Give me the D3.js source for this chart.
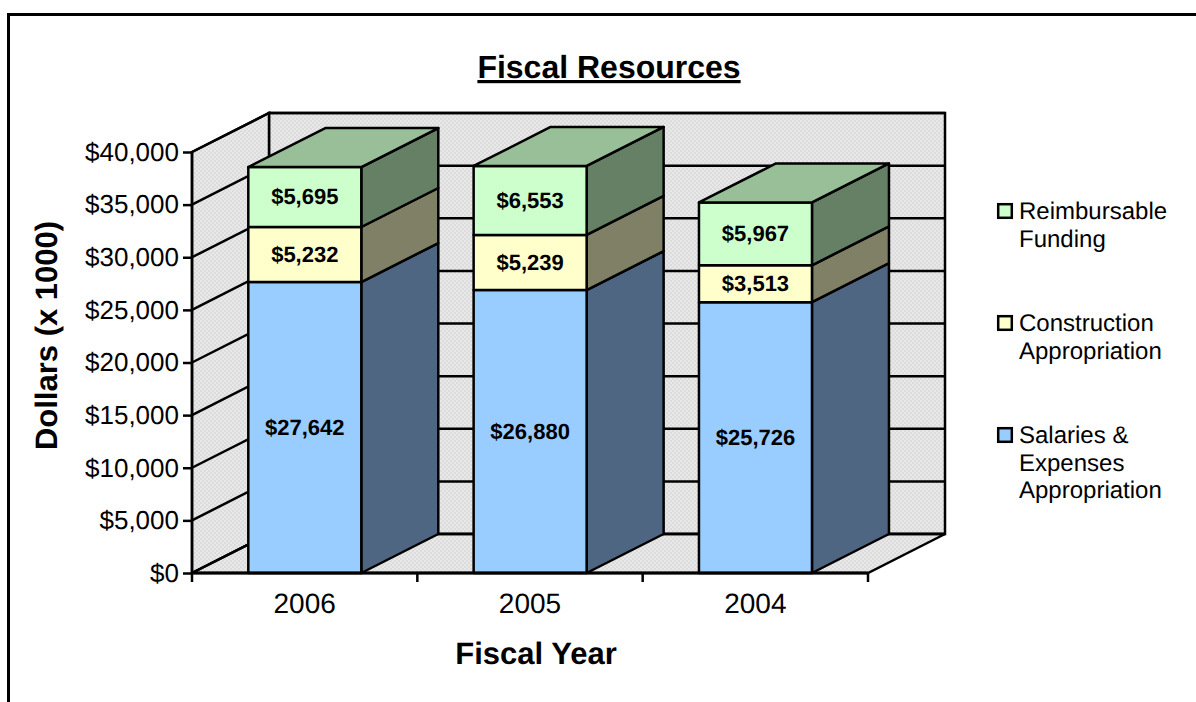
<!DOCTYPE html>
<html>
<head>
<meta charset="utf-8">
<script src="https://cdn.jsdelivr.net/npm/d3@7"></script>
<style>
  html, body { margin: 0; padding: 0; background: #fff; }
  svg { display: block; font-family: "Liberation Sans", Arial, sans-serif; text-rendering: geometricPrecision; }
  text { fill: #000; }
</style>
</head>
<body>
<div id="chart"></div>
<script>
// Fiscal resources by year, in thousands of dollars.
const years = ["2006", "2005", "2004"];
const salaries = [27642, 26880, 25726];
const construction = [5232, 5239, 3513];
const reimbursable = [5695, 6553, 5967];
const yTicks = [0, 5000, 10000, 15000, 20000, 25000, 30000, 35000, 40000];

const seriesNames = ["salaries", "construction", "reimbursable"];
const seriesValues = { salaries, construction, reimbursable };
const frontColors = { salaries: "#99ccff", construction: "#ffffcc", reimbursable: "#ccffcc" };
const sideColors = { salaries: "#4f6682", construction: "#808066", reimbursable: "#668066" };
const topColor = "#99bf99";
const legendLines = [
  { key: "reimbursable", lines: ["Reimbursable", "Funding"], y: 211 },
  { key: "construction", lines: ["Construction", "Appropriation"], y: 323 },
  { key: "salaries", lines: ["Salaries &", "Expenses", "Appropriation"], y: 435 }
];

const width = 1196, height = 702;
const depthX = 77, depthY = -39;   // oblique offset from front plane to back wall
const edge = 2.5;

const x = d3.scaleBand().domain(years).range([192, 868]).paddingInner(0).paddingOuter(0);
const y = d3.scaleLinear().domain([0, 40000]).range([573, 152]);
const barInset = 56.3, barWidth = 113;

const svg = d3.select("#chart").append("svg").attr("width", width).attr("height", height);

// Fine dither used on the walls and the floor.
const pat = svg.append("defs").append("pattern")
  .attr("id", "dither").attr("width", 4).attr("height", 4).attr("patternUnits", "userSpaceOnUse");
pat.append("rect").attr("width", 4).attr("height", 4).attr("fill", "#dcdcdc");
pat.append("rect").attr("width", 2).attr("height", 2).attr("fill", "#e8e8e8");
pat.append("rect").attr("x", 2).attr("y", 2).attr("width", 2).attr("height", 2).attr("fill", "#e8e8e8");

const poly = pts => d3.line()(pts) + "Z";
const x0 = x.range()[0], x1 = x.range()[1];
const y0 = y(0), yMax = y(40000);

// Page frame, open on the right and at the bottom.
svg.append("path")
  .attr("d", d3.line()([[8.5, height], [8.5, 14.5], [width, 14.5]]))
  .attr("fill", "none").attr("stroke", "#000").attr("stroke-width", 3);

// Walls and floor.
const walls = svg.append("g").attr("stroke", "#000").attr("stroke-width", edge).attr("stroke-linejoin", "miter");
walls.append("path").attr("fill", "url(#dither)")
  .attr("d", poly([[x0 + depthX, yMax + depthY], [x1 + depthX, yMax + depthY], [x1 + depthX, y0 + depthY], [x0 + depthX, y0 + depthY]]));
walls.append("path").attr("fill", "url(#dither)")
  .attr("d", poly([[x0, yMax], [x0 + depthX, yMax + depthY], [x0 + depthX, y0 + depthY], [x0, y0]]));
walls.append("path").attr("fill", "url(#dither)")
  .attr("d", poly([[x0, y0], [x0 + depthX, y0 + depthY], [x1 + depthX, y0 + depthY], [x1, y0]]));

// Gridlines wrap from the left wall across the back wall.
const grid = svg.append("g").attr("fill", "none").attr("stroke", "#000").attr("stroke-width", edge);
grid.selectAll("path").data(yTicks).join("path")
  .attr("d", v => d3.line()([[x0, y(v)], [x0 + depthX, y(v) + depthY], [x1 + depthX, y(v) + depthY]]));

// Stacked columns, each with a front, a side for every segment and one top.
const bars = svg.append("g").attr("stroke", "#000").attr("stroke-width", edge).attr("stroke-linejoin", "round");
years.forEach((yr, i) => {
  const left = x(yr) + barInset, right = left + barWidth;
  let base = 0;
  seriesNames.forEach(name => {
    const v = seriesValues[name][i];
    const lo = y(base), hi = y(base + v);
    bars.append("path").attr("fill", sideColors[name])
      .attr("d", poly([[right, lo], [right + depthX, lo + depthY], [right + depthX, hi + depthY], [right, hi]]));
    bars.append("rect").attr("x", left).attr("y", hi).attr("width", barWidth).attr("height", lo - hi)
      .attr("fill", frontColors[name]);
    svg.append("text").attr("class", "value")
      .attr("x", (left + right) / 2).attr("y", (lo + hi) / 2 - 0.5)
      .attr("dy", "0.35em").attr("text-anchor", "middle")
      .attr("font-size", 22).attr("font-weight", "bold")
      .text(d3.format("$,")(v));
    base += v;
  });
  const t = y(base);
  bars.append("path").attr("fill", topColor)
    .attr("d", poly([[left, t], [left + depthX, t + depthY], [right + depthX, t + depthY], [right, t]]));
});
svg.selectAll("text.value").raise();

// Value axis.
const yAxis = svg.append("g").attr("transform", `translate(${x0},0)`)
  .call(d3.axisLeft(y).tickValues(yTicks).tickFormat(d3.format("$,")).tickSize(9).tickPadding(4));
yAxis.select(".domain").remove();
yAxis.selectAll("line").attr("stroke", "#000").attr("stroke-width", edge);
yAxis.selectAll("text").attr("font-size", 26).attr("fill", "#000");
svg.append("line").attr("x1", x0).attr("x2", x0).attr("y1", yMax).attr("y2", y0)
  .attr("stroke", "#000").attr("stroke-width", edge);

// Category axis: labels at band centres, ticks at the band edges.
const xAxis = svg.append("g").attr("transform", `translate(0,${y0})`)
  .call(d3.axisBottom(x).tickSize(0).tickPadding(20));
xAxis.select(".domain").remove();
xAxis.selectAll("text").attr("font-size", 28).attr("fill", "#000");
svg.append("line").attr("x1", x0).attr("x2", x1).attr("y1", y0).attr("y2", y0)
  .attr("stroke", "#000").attr("stroke-width", 3);
const edges = years.map(d => x(d)).concat(x1);
svg.selectAll("line.edge").data(edges).join("line").attr("class", "edge")
  .attr("x1", d => d).attr("x2", d => d).attr("y1", y0).attr("y2", y0 + 9)
  .attr("stroke", "#000").attr("stroke-width", edge);

// Titles.
svg.append("text").attr("x", 609).attr("y", 78).attr("text-anchor", "middle")
  .attr("font-size", 32).attr("font-weight", "bold").attr("text-decoration", "underline")
  .text("Fiscal Resources");
svg.append("text").attr("x", 536).attr("y", 664).attr("text-anchor", "middle")
  .attr("font-size", 31).attr("font-weight", "bold").text("Fiscal Year");
svg.append("text").attr("transform", "translate(56.5,335.5) rotate(-90)").attr("text-anchor", "middle")
  .attr("font-size", 31).attr("font-weight", "bold").text("Dollars (x 1000)");

// Legend.
const legend = svg.append("g");
legendLines.forEach(item => {
  legend.append("rect").attr("x", 998.2).attr("y", item.y - 6.8).attr("width", 13.6).attr("height", 13.6)
    .attr("fill", frontColors[item.key]).attr("stroke", "#000").attr("stroke-width", 2.5);
  item.lines.forEach((line, j) => {
    legend.append("text").attr("x", 1019).attr("y", item.y + 8 + j * 27.7)
      .attr("font-size", 24).text(line);
  });
});
</script>
</body>
</html>
